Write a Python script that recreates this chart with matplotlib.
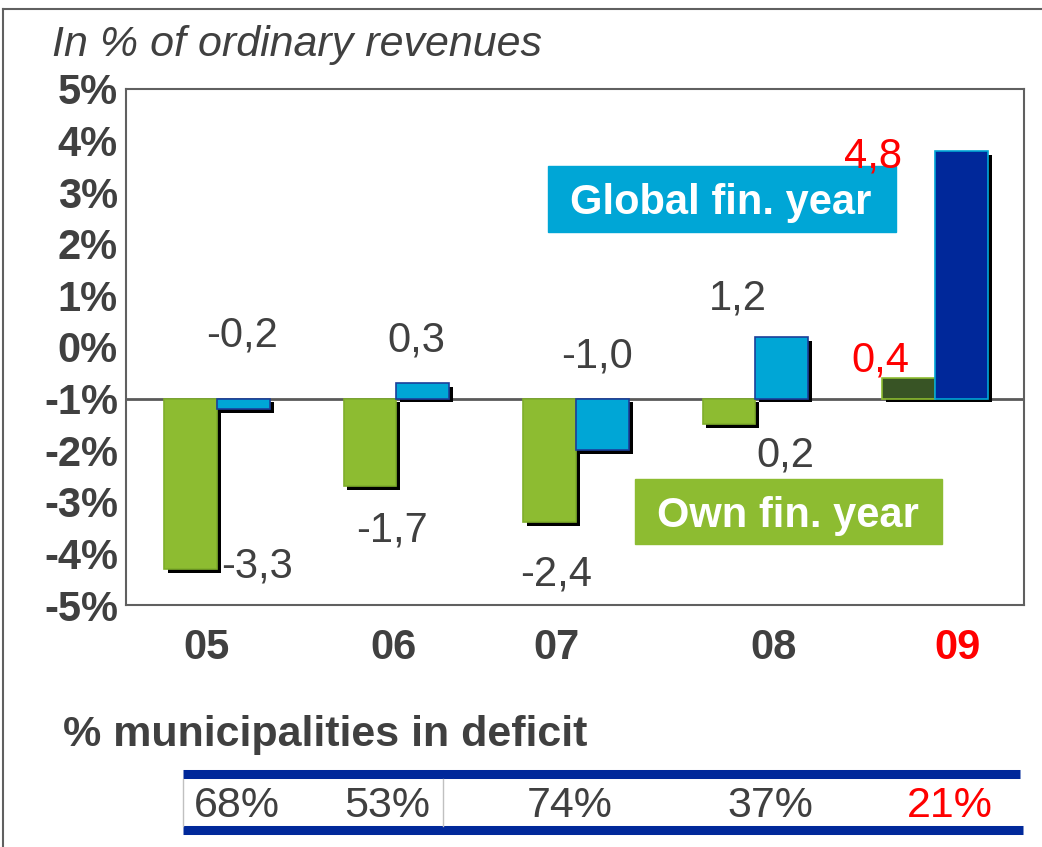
import numpy as np
import matplotlib.pyplot as plt
import matplotlib.patheffects as pe
from matplotlib.patches import Rectangle
from matplotlib.lines import Line2D
from matplotlib.transforms import Affine2D, blended_transform_factory

plt.rcParams['font.family'] = ['Liberation Sans', 'DejaVu Sans']

# data
years = ['05', '06', '07', '08', '09']
own_fin = [-3.3, -1.7, -2.4, -0.5, 0.4]
global_fin = [-0.2, 0.3, -1.0, 1.2, 4.8]
own_txt = ['-3,3', '-1,7', '-2,4', '0,2', '0,4']
global_txt = ['-0,2', '0,3', '-1,0', '1,2', '4,8']
deficit_pct = ['68%', '53%', '74%', '37%', '21%']
yticks = np.arange(-4, 7)
ytick_txt = ['%d%%' % (v - 1) for v in yticks]

W, H = 1042, 847
GREY = '#404040'
GREEN = '#8dbc31'
BLUE = '#00a6d6'
NAVY = '#00289a'
DKGREEN = '#385425'
RED = '#ff0000'
FS = 30

fig = plt.figure(figsize=(W / 100, H / 100), dpi=100)
# pixel coords, origin top-left
px = Affine2D().scale(1.0 / W, -1.0 / H).translate(0, 1) + fig.transFigure

ax = fig.add_axes([126 / W, 1 - 605 / H, (1024 - 126) / W, (605 - 89) / H])
x = np.arange(len(years))
bw = 0.295

own_col = [GREEN] * 4 + [DKGREEN]
own_edge = ['#7fae2b'] * 4 + [GREEN]
glob_col = [BLUE] * 4 + [NAVY]
glob_edge = ['#1b3f9a'] * 4 + [BLUE]

ax.axhline(0, color='#5a5a5a', lw=2, zorder=2)
b1 = ax.bar(x - bw / 2, own_fin, bw, color=own_col, edgecolor=own_edge, linewidth=1.2, zorder=3)
b2 = ax.bar(x + bw / 2, global_fin, bw, color=glob_col, edgecolor=glob_edge, linewidth=1.2, zorder=3)
shadow = [pe.SimplePatchShadow(offset=(2.8, -2.8), shadow_rgbFace='k', alpha=1.0), pe.Normal()]
for b in list(b1) + list(b2):
    b.set_path_effects(shadow)

ax.set_xlim(-0.507, 4.496)
ax.set_ylim(-4, 6)
ax.set_xticks([])
ax.set_yticks(yticks, ytick_txt)
ax.tick_params(axis='y', length=0, pad=5.8, labelsize=FS, labelcolor=GREY)
for lbl in ax.get_yticklabels():
    lbl.set_fontweight('bold')
for s in ax.spines.values():
    s.set_color('#606060')
    s.set_linewidth(1.5)

# value label placement (offset from group centre, y in data units)
own_pos = [(0.223, -3.469), (-0.025, -2.771), (-0.111, -3.624), (0.164, -1.318), (-0.306, 0.523)]
glob_pos = [(0.139, 1.008), (0.111, 0.911), (0.117, 0.601), (-0.097, 1.725), (-0.345, 4.477)]
for i in range(len(years)):
    c = RED if i == 4 else GREY
    ax.text(i + own_pos[i][0], own_pos[i][1], own_txt[i], ha='center', va='baseline',
            fontsize=FS, color=c, zorder=6)
    ax.text(i + glob_pos[i][0], glob_pos[i][1], global_txt[i], ha='center', va='baseline',
            fontsize=FS, color=c, zorder=6)

# legend boxes
ax.add_patch(Rectangle((548, 166), 348, 66, transform=px, color=BLUE, zorder=4))
ax.text(721, 214, 'Global fin. year', transform=px, ha='center', va='baseline',
        fontsize=FS, fontweight='bold', color='white', zorder=5)
ax.add_patch(Rectangle((635, 479), 307, 65, transform=px, color=GREEN, zorder=4))
ax.text(788, 527, 'Own fin. year', transform=px, ha='center', va='baseline',
        fontsize=FS, fontweight='bold', color='white', zorder=5)

# category labels
cat_dx = [-0.061, -0.017, -0.106, 0.1, 0.128]
tr = blended_transform_factory(ax.transData, px)
for i, yr in enumerate(years):
    ax.text(i + cat_dx[i], 659, yr, transform=tr, ha='center', va='baseline',
            fontsize=FS, fontweight='bold', color=RED if i == 4 else GREY, clip_on=False)

# outer frame
fig.add_artist(Line2D([3, 3], [9, H], transform=px, color='#606060', lw=1.5))
fig.add_artist(Line2D([3, W], [9, 9], transform=px, color='#606060', lw=1.5))

fig.text(52, 56, 'In % of ordinary revenues', transform=px, ha='left', va='baseline',
         fontsize=31, style='italic', color=GREY)
fig.text(63, 746, '% municipalities in deficit', transform=px, ha='left', va='baseline',
         fontsize=31, fontweight='bold', color=GREY)

# deficit table
fig.add_artist(Line2D([183, 1020], [774.5, 774.5], transform=px, color=NAVY, lw=6.5,
                      solid_capstyle='butt'))
fig.add_artist(Line2D([183, 1023], [830.5, 830.5], transform=px, color=NAVY, lw=6.5,
                      solid_capstyle='butt'))
for xv in [183, 443]:
    fig.add_artist(Line2D([xv, xv], [779, 826], transform=px, color='#c0c0c0', lw=1))
tab_x = [237, 387, 570, 770, 950]
for i, t in enumerate(deficit_pct):
    fig.text(tab_x[i], 817, t, transform=px, ha='center', va='baseline',
             fontsize=31, color=RED if i == 4 else GREY)

fig.savefig('out.png', dpi=100)
